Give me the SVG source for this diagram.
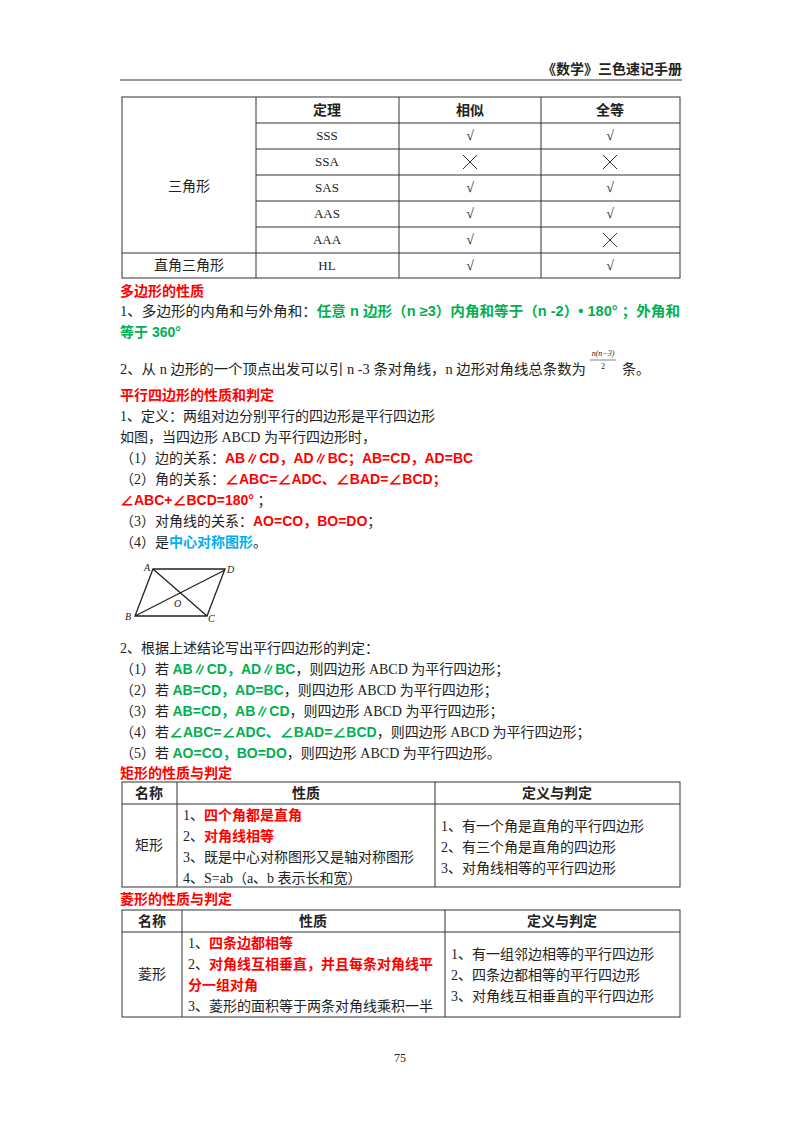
<svg xmlns="http://www.w3.org/2000/svg" width="800" height="1132" viewBox="0 0 800 1132">
<style>
text{font-family:"Liberation Serif","Noto Sans CJK SC",serif;font-size:14px;fill:#222}
.b{font-family:"Liberation Sans","Noto Sans CJK SC",sans-serif;font-weight:bold}
.r{fill:#ff0000}.g{fill:#00b050}.u{fill:#00b0f0}
.c{text-anchor:middle}
.ln{stroke:#333;stroke-width:1;fill:none}
</style>
<rect width="800" height="1132" fill="#fff"/>
<text x="682" y="74" class="b" style="text-anchor:end;font-size:14px">《数学》三色速记手册</text>
<line x1="120" y1="80" x2="682" y2="80" class="ln"/>
<g id="table1">
<rect x="122" y="97" width="558" height="181" class="ln"/>
<path class="ln" d="M256 123H680M256 149H680M256 175H680M256 201H680M256 227H680M122 253H680M256 97V278M399 97V278M541 97V278"/>
<g class="c">
<text x="327" y="115" class="b">定理</text><text x="470" y="115" class="b">相似</text><text x="610" y="115" class="b">全等</text>
<text x="189" y="191">三角形</text><text x="189" y="270">直角三角形</text>
<text x="327" y="140" style="font-size:13px">SSS</text><text x="327" y="166" style="font-size:13px">SSA</text><text x="327" y="192" style="font-size:13px">SAS</text><text x="327" y="218" style="font-size:13px">AAS</text><text x="327" y="244" style="font-size:13px">AAA</text><text x="327" y="270" style="font-size:13px">HL</text>
<text x="470" y="140">√</text><text x="610" y="140">√</text>
<text x="470" y="192">√</text><text x="610" y="192">√</text>
<text x="470" y="218">√</text><text x="610" y="218">√</text>
<text x="470" y="244">√</text><text x="470" y="270">√</text><text x="610" y="270">√</text>
</g>
<path class="ln" d="M463 155l14 14M477 155l-14 14M603 155l14 14M617 155l-14 14M603 233l14 14M617 233l-14 14"/>
</g>
<text x="120" y="296" class="b r">多边形的性质</text>
<text x="120" y="316" textLength="560" lengthAdjust="spacingAndGlyphs">1、多边形的内角和与外角和：<tspan class="b g">任意 n 边形（n ≥3）内角和等于（n -2）• 180° ；外角和</tspan></text>
<text x="120" y="337" class="b g">等于 360°</text>
<text x="120" y="374" textLength="466" lengthAdjust="spacingAndGlyphs">2、从 n 边形的一个顶点出发可以引 n -3 条对角线，n 边形对角线总条数为</text>
<text x="603" y="356" class="c" style="font-size:8px;font-style:italic">n(n−3)</text>
<line x1="590" y1="360" x2="616" y2="360" stroke="#333" stroke-width="0.6"/>
<text x="603" y="369" class="c" style="font-size:8px">2</text>
<text x="622" y="374">条。</text>
<text x="120" y="400" class="b r">平行四边形的性质和判定</text>
<text x="120" y="421">1、定义：两组对边分别平行的四边形是平行四边形</text>
<text x="120" y="442">如图，当四边形 ABCD 为平行四边形时，</text>
<text x="120" y="463">（1）边的关系：<tspan class="b r">AB∥CD，AD∥BC；AB=CD，AD=BC</tspan></text>
<text x="120" y="484">（2）角的关系：<tspan class="b r">∠ABC=∠ADC、∠BAD=∠BCD；</tspan></text>
<text x="120" y="505"><tspan class="b r">∠ABC+∠BCD=180°</tspan> ；</text>
<text x="120" y="526">（3）对角线的关系：<tspan class="b r">AO=CO，BO=DO</tspan>；</text>
<text x="120" y="547">（4）是<tspan class="b u">中心对称图形</tspan>。</text>
<g id="figure">
<path d="M153 569H225L207 616H135Z M153 569L207 616M135 616L225 570" stroke="#222" stroke-width="1.3" fill="none"/>
<text x="144" y="571" style="font-size:10px;font-style:italic">A</text>
<text x="227" y="573" style="font-size:10px;font-style:italic">D</text>
<text x="125" y="620" style="font-size:10px;font-style:italic">B</text>
<text x="208" y="622" style="font-size:10px;font-style:italic">C</text>
<text x="174" y="607" style="font-size:10px;font-style:italic">O</text>
</g>
<text x="120" y="653">2、根据上述结论写出平行四边形的判定：</text>
<text x="120" y="674">（1）若 <tspan class="b g">AB∥CD，AD∥BC</tspan>，则四边形 ABCD 为平行四边形；</text>
<text x="120" y="695">（2）若 <tspan class="b g">AB=CD，AD=BC</tspan>，则四边形 ABCD 为平行四边形；</text>
<text x="120" y="716">（3）若 <tspan class="b g">AB=CD，AB∥CD</tspan>，则四边形 ABCD 为平行四边形；</text>
<text x="120" y="737">（4）若<tspan class="b g">∠ABC=∠ADC、∠BAD=∠BCD</tspan>，则四边形 ABCD 为平行四边形；</text>
<text x="120" y="758">（5）若 <tspan class="b g">AO=CO，BO=DO</tspan>，则四边形 ABCD 为平行四边形。</text>
<text x="120" y="778" class="b r">矩形的性质与判定</text>
<g id="table2">
<rect x="122" y="782" width="558" height="105" class="ln"/>
<path class="ln" d="M122 804H680M177 782V887M435 782V887"/>
<text x="149" y="798" class="b c">名称</text><text x="306" y="798" class="b c">性质</text><text x="557" y="798" class="b c">定义与判定</text>
<text x="149" y="850" class="c">矩形</text>
<text x="183" y="820">1、<tspan class="b r">四个角都是直角</tspan></text>
<text x="183" y="841">2、<tspan class="b r">对角线相等</tspan></text>
<text x="183" y="862">3、既是中心对称图形又是轴对称图形</text>
<text x="183" y="883">4、S=ab（a、b 表示长和宽）</text>
<text x="441" y="831">1、有一个角是直角的平行四边形</text>
<text x="441" y="852">2、有三个角是直角的四边形</text>
<text x="441" y="873">3、对角线相等的平行四边形</text>
</g>
<text x="120" y="904" class="b r">菱形的性质与判定</text>
<g id="table3">
<rect x="122" y="910" width="558" height="107" class="ln"/>
<path class="ln" d="M122 932H680M182 910V1017M445 910V1017"/>
<text x="152" y="926" class="b c">名称</text><text x="313" y="926" class="b c">性质</text><text x="562" y="926" class="b c">定义与判定</text>
<text x="152" y="979" class="c">菱形</text>
<text x="188" y="948">1、<tspan class="b r">四条边都相等</tspan></text>
<text x="188" y="969">2、<tspan class="b r">对角线互相垂直，并且每条对角线平</tspan></text>
<text x="188" y="990" class="b r">分一组对角</text>
<text x="188" y="1011">3、菱形的面积等于两条对角线乘积一半</text>
<text x="451" y="959">1、有一组邻边相等的平行四边形</text>
<text x="451" y="980">2、四条边都相等的平行四边形</text>
<text x="451" y="1001">3、对角线互相垂直的平行四边形</text>
</g>
<text x="400" y="1062" class="c" style="font-size:12px">75</text>
</svg>
